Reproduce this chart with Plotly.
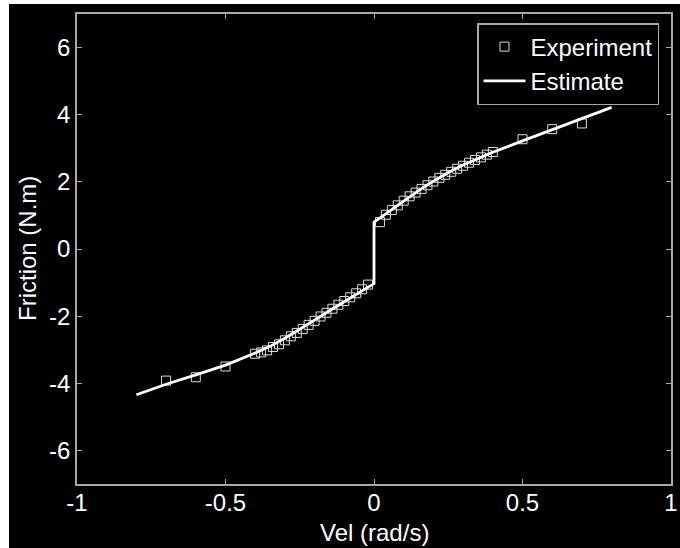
import plotly.graph_objects as go

# Experimental data (velocity rad/s, friction N.m)
exp_vel = [-0.70, -0.60, -0.50,
           -0.40, -0.38, -0.36, -0.34, -0.32, -0.30, -0.28, -0.26, -0.24, -0.22,
           -0.20, -0.18, -0.16, -0.14, -0.12, -0.10, -0.08, -0.06, -0.04, -0.02,
           0.02, 0.04, 0.06, 0.08, 0.10, 0.12, 0.14, 0.16, 0.18, 0.20,
           0.22, 0.24, 0.26, 0.28, 0.30, 0.32, 0.34, 0.36, 0.38, 0.40,
           0.50, 0.60, 0.70]
exp_fric = [-3.92, -3.82, -3.50,
            -3.12, -3.08, -3.02, -2.92, -2.84, -2.72, -2.60, -2.50, -2.38, -2.26,
            -2.14, -2.01, -1.90, -1.78, -1.66, -1.55, -1.44, -1.32, -1.20, -1.06,
            0.80, 1.02, 1.16, 1.30, 1.44, 1.57, 1.68, 1.79, 1.90, 2.01,
            2.12, 2.21, 2.30, 2.39, 2.48, 2.57, 2.65, 2.73, 2.81, 2.89,
            3.27, 3.57, 3.74]

# Estimated friction model
est_vel = [-0.80, -0.70, -0.60, -0.50, -0.40, -0.35, -0.30, -0.25, -0.20, -0.15,
           -0.10, -0.05, 0.0, 0.0, 0.05, 0.10, 0.15, 0.20, 0.25, 0.30, 0.35,
           0.40, 0.50, 0.60, 0.70, 0.80]
est_fric = [-4.34, -4.03, -3.75, -3.46, -3.10, -2.90, -2.66, -2.40, -2.12, -1.84,
            -1.57, -1.30, -1.03, 0.80, 1.12, 1.44, 1.74, 2.02, 2.28, 2.50, 2.70,
            2.88, 3.22, 3.56, 3.89, 4.22]

x_ticks = [-1, -0.5, 0, 0.5, 1]
x_labels = ["-1", "-0.5", "0", "0.5", "1"]
y_ticks = [-6, -4, -2, 0, 2, 4, 6]
y_labels = ["-6", "-4", "-2", "0", "2", "4", "6"]

FONT = "Liberation Sans, Arial, sans-serif"
FS = 24
AXIS_COLOR = "#a8a8a8"

L, R, T, B = 77, 9, 14, 64
PW, PH = 680 - L - R, 548 - T - B


def px_to_paper_x(px):
    return (px - L) / PW


def px_to_paper_y(py):
    return (548 - B - py) / PH


fig = go.Figure()
fig.add_trace(go.Scatter(
    x=exp_vel, y=exp_fric, mode="markers", name="Experiment",
    marker=dict(symbol="square-open", size=9, color="#dcdcdc",
                line=dict(width=1, color="#dcdcdc")),
))
fig.add_trace(go.Scatter(
    x=est_vel, y=est_fric, mode="lines", name="Estimate",
    line=dict(color="white", width=2.8),
))

axis_common = dict(
    showgrid=False, zeroline=False, showline=True, linecolor=AXIS_COLOR,
    linewidth=1.5, mirror="ticks", ticks="inside", ticklen=5,
    tickcolor=AXIS_COLOR, tickwidth=1, automargin=False,
    tickfont=dict(family=FONT, size=FS, color="white"),
)

fig.update_layout(
    width=680, height=548,
    margin=dict(l=L, r=R, t=T, b=B, autoexpand=False),
    paper_bgcolor="white", plot_bgcolor="black",
    font=dict(family=FONT, color="white"),
    xaxis=dict(range=[-1, 1], tickvals=x_ticks, ticktext=x_labels,
               ticklabelstandoff=-4, **axis_common),
    yaxis=dict(range=[-7, 7], tickvals=y_ticks, ticktext=y_labels,
               ticklabelstandoff=0, **axis_common),
    legend=dict(x=px_to_paper_x(659), y=px_to_paper_y(23), xanchor="right", yanchor="top",
                bgcolor="black", bordercolor=AXIS_COLOR, borderwidth=1.5,
                font=dict(family=FONT, size=24, color="white"),
                tracegroupgap=0, itemwidth=42),
    showlegend=True,
    annotations=[
        dict(text="Vel (rad/s)", xref="paper", yref="paper",
             x=0.5, y=px_to_paper_y(532), xanchor="center", yanchor="middle",
             showarrow=False, font=dict(family=FONT, size=FS, color="white")),
        dict(text="Friction (N.m)", xref="paper", yref="paper",
             x=px_to_paper_x(27), y=0.5, xanchor="center", yanchor="middle",
             textangle=-90, showarrow=False,
             font=dict(family=FONT, size=FS, color="white")),
    ],
    shapes=[dict(type="rect", xref="paper", yref="paper",
                 x0=px_to_paper_x(9), x1=px_to_paper_x(681),
                 y0=px_to_paper_y(549), y1=px_to_paper_y(4),
                 fillcolor="black", line=dict(width=0), layer="below")],
)

fig.write_html("out.html")
